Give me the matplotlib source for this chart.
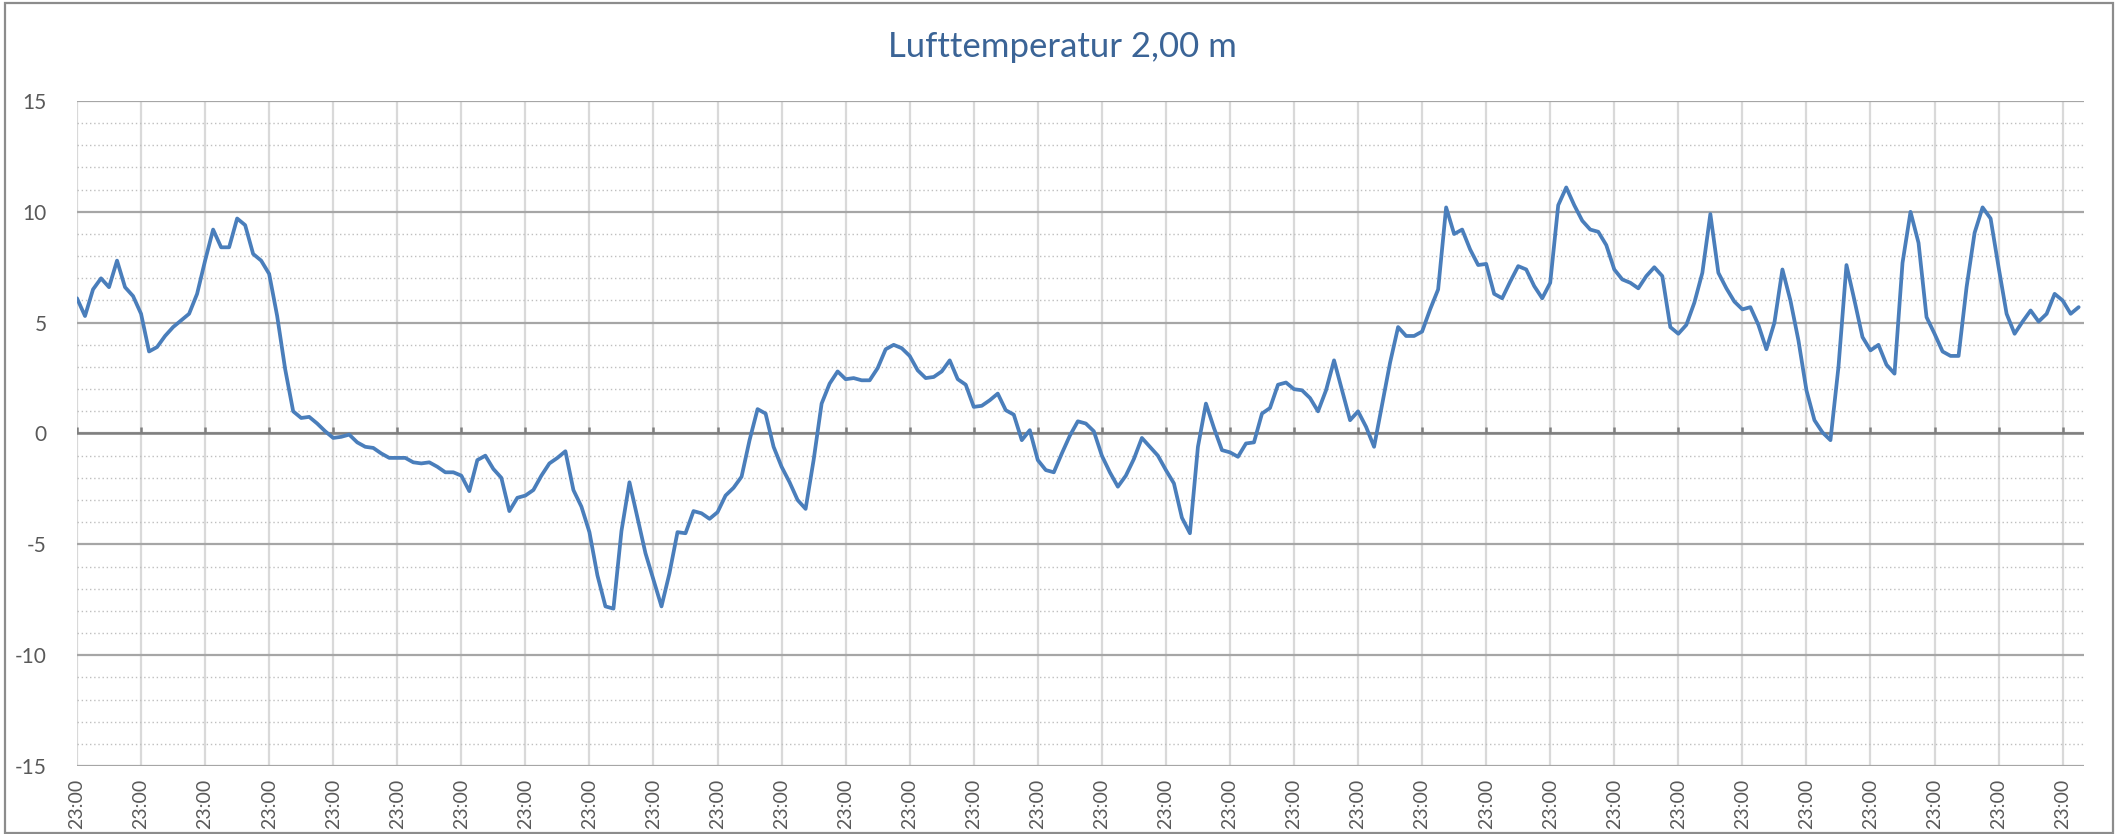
import matplotlib
matplotlib.use('Agg')

import matplotlib.pyplot as plt
import numpy as np
from matplotlib.patches import Rectangle

# Lufttemperatur 2,00 m, every 3 hours
step_h = 3
temps = [
    6.1, 5.3, 6.5, 7.0, 6.6, 7.8, 6.6, 6.2,            # day 1
    5.4, 3.7, 3.9, 4.4, 4.8, 5.1, 5.4, 6.3,
    7.8, 9.2, 8.4, 8.4, 9.7, 9.4, 8.1, 7.8,
    7.2, 5.3, 2.9, 1.0, 0.7, 0.75, 0.45, 0.1,
    -0.2, -0.15, -0.05, -0.4, -0.6, -0.65, -0.9, -1.1,  # day 5
    -1.1, -1.1, -1.3, -1.35, -1.3, -1.5, -1.75, -1.75,
    -1.9, -2.6, -1.2, -1.0, -1.6, -2.0, -3.5, -2.9,
    -2.8, -2.55, -1.9, -1.35, -1.1, -0.8, -2.55, -3.3,
    -4.45, -6.4, -7.8, -7.9, -4.4, -2.2, -3.8, -5.4,    # day 9
    -6.6, -7.8, -6.3, -4.45, -4.5, -3.5, -3.6, -3.85,
    -3.55, -2.8, -2.45, -1.95, -0.3, 1.1, 0.9, -0.6,
    -1.5, -2.2, -3.0, -3.4, -1.2, 1.35, 2.25, 2.8,
    2.45, 2.5, 2.4, 2.4, 2.95, 3.8, 4.0, 3.85,          # day 13
    3.5, 2.85, 2.5, 2.55, 2.8, 3.3, 2.45, 2.2,
    1.2, 1.25, 1.5, 1.8, 1.05, 0.85, -0.3, 0.15,
    -1.2, -1.65, -1.75, -0.9, -0.1, 0.55, 0.45, 0.1,
    -1.0, -1.75, -2.4, -1.9, -1.15, -0.2, -0.6, -1.0,   # day 17
    -1.65, -2.25, -3.8, -4.5, -0.6, 1.35, 0.25, -0.75,
    -0.85, -1.05, -0.45, -0.4, 0.9, 1.15, 2.2, 2.3,
    2.0, 1.95, 1.6, 1.0, 1.95, 3.3, 1.95, 0.6,
    1.0, 0.3, -0.6, 1.3, 3.2, 4.8, 4.4, 4.4,            # day 21
    4.6, 5.6, 6.5, 10.2, 9.0, 9.2, 8.3, 7.6,
    7.65, 6.3, 6.1, 6.85, 7.55, 7.4, 6.65, 6.1,
    6.8, 10.3, 11.1, 10.3, 9.6, 9.2, 9.1, 8.5,
    7.4, 6.95, 6.8, 6.55, 7.1, 7.5, 7.1, 4.8,           # day 25
    4.5, 4.9, 5.9, 7.25, 9.9, 7.25, 6.55, 5.95,
    5.6, 5.7, 4.9, 3.8, 5.0, 7.4, 6.0, 4.2,
    1.95, 0.6, 0.05, -0.3, 3.0, 7.6, 6.0, 4.35,
    3.75, 4.0, 3.1, 2.7, 7.7, 10.0, 8.6, 5.25,          # day 29
    4.5, 3.7, 3.5, 3.5, 6.6, 9.05, 10.2, 9.7,
    7.5, 5.4, 4.5, 5.05, 5.55, 5.05, 5.4, 6.3,
    6.0, 5.4, 5.7,
]
day_ticks = list(range(0, 745, 24))
tick_labels = ["23:00"] * len(day_ticks)
x_end = 752

COLORS = {
    "line": "#4a7ebb",
    "title": "#3b6496",
    "text": "#595959",
    "major": "#a6a6a6",
    "minor": "#bfbfbf",
    "vgrid": "#d9d9d9",
    "axis": "#7f7f7f",
    "frame": "#8c8c8c",
}

plt.rcParams['font.family'] = ['Lato', 'DejaVu Sans']
plt.rcParams['axes.unicode_minus'] = False

W, H = 2126, 834
fig = plt.figure(figsize=(W / 100, H / 100), dpi=100)
fig.patch.set_facecolor("white")

# outer chart frame
fig.add_artist(Rectangle((5 / W, 1 / H), (2113 - 5) / W, (831 - 1) / H,
                         transform=fig.transFigure, fill=False,
                         edgecolor=COLORS["frame"], linewidth=1.6))

ax = fig.add_axes([77 / W, (H - 766) / H, (2084 - 77) / W, (766 - 101) / H])

hours = np.arange(len(temps)) * step_h

ax.set_xlim(0, x_end)
ax.set_ylim(-15, 15)

ax.set_yticks(range(-15, 16, 5))
ax.set_yticks(range(-15, 16, 1), minor=True)
ax.set_xticks(day_ticks)
ax.set_xticklabels(tick_labels, rotation=90)

ax.grid(axis='x', which='major', color=COLORS["vgrid"], linewidth=1.6)
ax.grid(axis='y', which='major', color=COLORS["major"], linewidth=1.6)
ax.grid(axis='y', which='minor', color=COLORS["minor"], linewidth=1.0,
        linestyle=(0, (1, 2)))
ax.set_axisbelow(True)

# category axis crossing at 0 with small tick marks
ax.axhline(0, color=COLORS["axis"], linewidth=1.8, zorder=1.5)
ax.vlines(day_ticks, 0, 0.3, color=COLORS["axis"], linewidth=1.8, zorder=1.5)

ax.plot(hours, temps, color=COLORS["line"], linewidth=2.7, zorder=3,
        solid_joinstyle='round', solid_capstyle='round')

for s in ax.spines.values():
    s.set_visible(False)
ax.tick_params(axis='both', which='both', length=0, colors=COLORS["text"])
ax.tick_params(axis='y', pad=22, labelsize=15)
ax.tick_params(axis='x', pad=9, labelsize=14)

fig.text(1062 / W, 1 - 47 / H, "Lufttemperatur 2,00 m", ha='center', va='center',
         fontsize=25, color=COLORS["title"])

fig.savefig("out.png", dpi=100, facecolor="white")
